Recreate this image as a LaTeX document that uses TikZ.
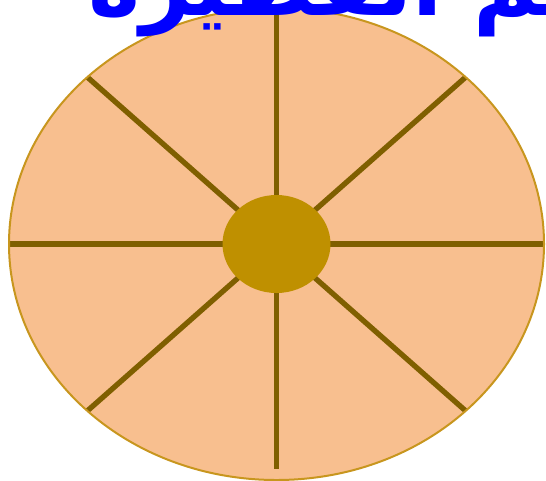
\documentclass[tikz,border=0pt]{standalone}
\usepackage{fontspec}
\usetikzlibrary{calc}
\newfontfamily\arabicfont[Script=Arabic]{DejaVu Sans}
\TeXXeTstate=1
\definecolor{piefill}{HTML}{F8BF8F}
\definecolor{pieedge}{HTML}{C8961E}
\definecolor{spoke}{HTML}{7F5F00}
\definecolor{hubfill}{HTML}{BF9000}
\tikzset{
  spokeline/.style={draw=spoke, line width=4pt},
  titletext/.style={text=blue, font=\arabicfont\bfseries\fontsize{66}{66}\selectfont, inner sep=0pt, anchor=base west}
}
\begin{document}
\begin{tikzpicture}[x=0.75pt,y=-0.75pt]
\clip (0,0) rectangle (546,480);
\useasboundingbox (0,0) rectangle (546,480);
\coordinate (c) at (276.5,244);
\fill[piefill] (c) ellipse [x radius=267.5, y radius=236];
\foreach \a in {0,45,135,180,225,315}{
  \draw[spokeline] (c) -- ($(c)+({267.5*cos(\a)},{236*sin(\a)})$);
}
\coordinate (top) at (276.5,8);
\coordinate (bot) at (276.5,469);
\draw[spokeline, line width=3.4pt] (c) -- (top);
\draw[spokeline, line width=3.4pt] (c) -- (bot);
\draw[pieedge, line width=1.5pt] (c) ellipse [x radius=267.5, y radius=236];
\fill[hubfill] (c) ellipse [x radius=54, y radius=49];
\node[titletext] (title) at (88,15) {\beginR تقسيم الفطيرة\endR};
\end{tikzpicture}
\end{document}
